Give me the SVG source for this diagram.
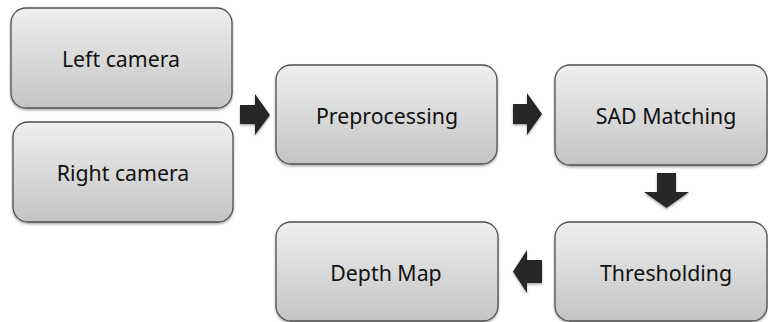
<svg xmlns="http://www.w3.org/2000/svg" width="768" height="322" viewBox="0 0 768 322">
<defs>
<linearGradient id="g" x1="0" y1="0" x2="0" y2="1">
<stop offset="0" stop-color="#efefef"/>
<stop offset="1" stop-color="#c4c4c4"/>
</linearGradient>
<filter id="sh" x="-10%" y="-10%" width="120%" height="130%">
<feDropShadow dx="0" dy="1.5" stdDeviation="1" flood-color="#000" flood-opacity="0.35"/>
</filter>
</defs>
<style>
.box{fill:url(#g);stroke:#505050;stroke-width:1.3;filter:url(#sh)}
.lbl{font-family:"Noto Sans","Open Sans",sans-serif;font-size:21.3px;fill:#111;text-anchor:middle;dominant-baseline:central}
.arr{fill:#262626;filter:url(#sh)}
</style>
<rect width="768" height="322" fill="#fff"/>
<g id="left-camera"><rect class="box" x="11" y="8" width="221" height="100" rx="15"/><text class="lbl" x="121" y="58">Left camera</text></g>
<g id="right-camera"><rect class="box" x="13" y="122" width="220" height="100" rx="15"/><text class="lbl" x="123" y="172">Right camera</text></g>
<g id="preprocessing"><rect class="box" x="276" y="65" width="221" height="99" rx="15"/><text class="lbl" x="387" y="115">Preprocessing</text></g>
<g id="sad-matching"><rect class="box" x="555" y="65" width="212" height="100" rx="15"/><text class="lbl" x="666" y="115">SAD Matching</text></g>
<g id="thresholding"><rect class="box" x="555" y="222" width="212" height="99" rx="15"/><text class="lbl" x="666" y="272">Thresholding</text></g>
<g id="depth-map"><rect class="box" x="276" y="222" width="222" height="99" rx="15"/><text class="lbl" x="386" y="272">Depth Map</text></g>
<g id="connectors">
<polygon class="arr" points="240,105 255,105 255,94 270,115 255,135 255,124 240,124"/>
<polygon class="arr" points="513,104 527,104 527,93 542,114 527,135 527,124 513,124"/>
<polygon class="arr" points="657,173 676,173 676,192 689,192 666.5,208 644,192 657,192"/>
<polygon class="arr" points="542,260 527,260 527,250 513,271.5 527,293 527,283 542,283"/>
</g>
</svg>
